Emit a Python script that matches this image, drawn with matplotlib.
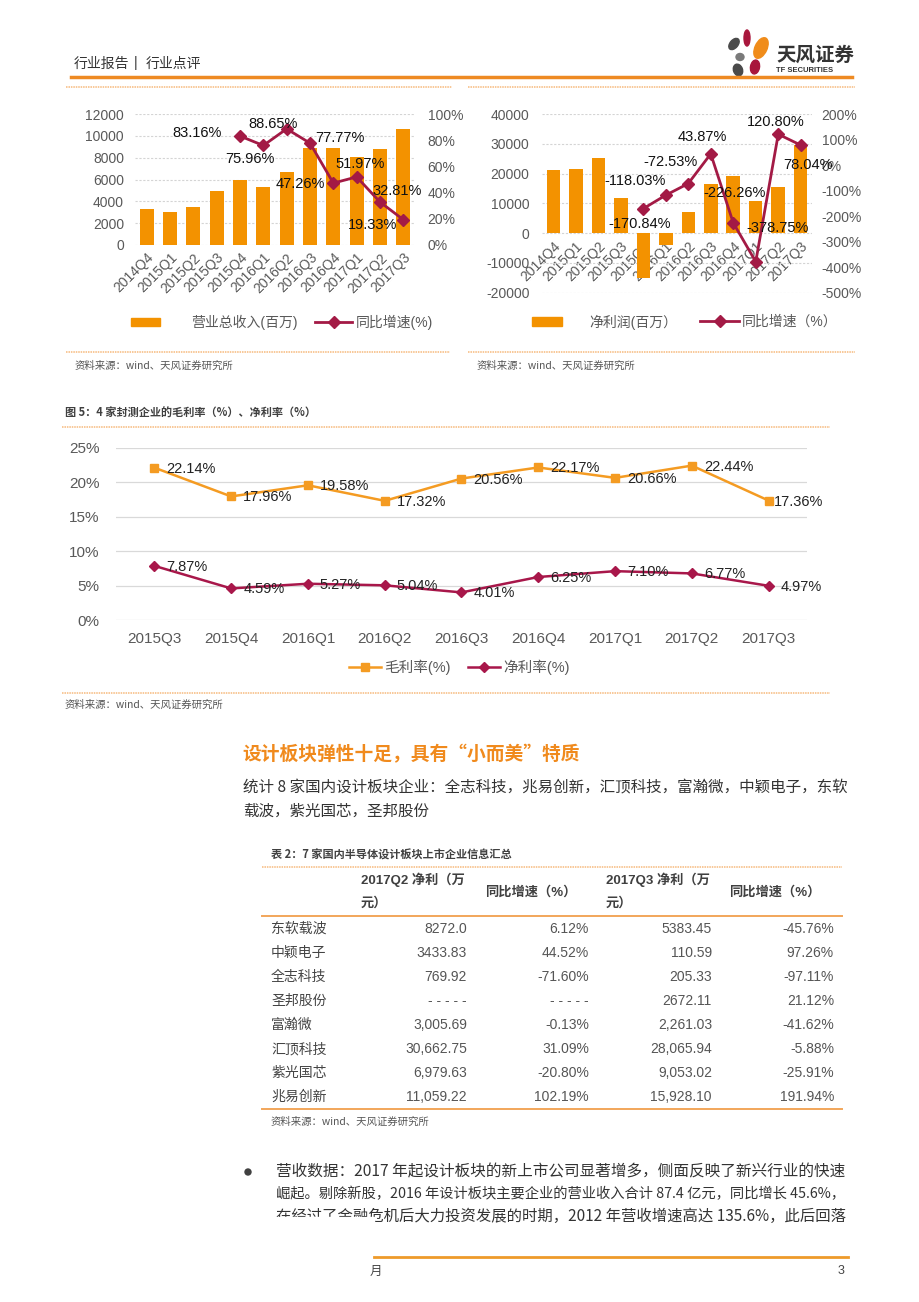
import numpy as np
import matplotlib
matplotlib.use('Agg')
import matplotlib.pyplot as plt
from matplotlib.lines import Line2D
from matplotlib.patches import Rectangle, Ellipse, Patch
from matplotlib import font_manager as fm

_names = {f.name for f in fm.fontManager.ttflist}
NARROW = 'Liberation Sans Narrow' if 'Liberation Sans Narrow' in _names else 'Liberation Sans'
CJK = 'Noto Sans CJK SC'
plt.rcParams['font.family'] = ['Liberation Sans', CJK]
plt.rcParams['axes.unicode_minus'] = False
NARROW_FAM = [NARROW, CJK]

# ---------------- data ----------------
quarters_a = ['2014Q4', '2015Q1', '2015Q2', '2015Q3', '2015Q4', '2016Q1',
              '2016Q2', '2016Q3', '2016Q4', '2017Q1', '2017Q2', '2017Q3']
revenue = [3300, 2980, 3500, 4970, 6000, 5280, 6650, 8850, 8880, 8060, 8820, 10600]
revenue_yoy = [np.nan, np.nan, np.nan, np.nan, 83.16, 75.96, 88.65, 77.77,
               47.26, 51.97, 32.81, 19.33]
profit = [21270, 21500, 25300, 11650, -15230, -3900, 6940, 16570, 19150,
          10750, 15340, 29670]
profit_yoy = [np.nan, np.nan, np.nan, np.nan, -170.84, -118.03, -72.53, 43.87,
              -226.26, -378.75, 120.80, 78.04]

quarters_b = ['2015Q3', '2015Q4', '2016Q1', '2016Q2', '2016Q3', '2016Q4',
              '2017Q1', '2017Q2', '2017Q3']
gross_margin = [22.14, 17.96, 19.58, 17.32, 20.56, 22.17, 20.66, 22.44, 17.36]
net_margin = [7.87, 4.59, 5.27, 5.04, 4.01, 6.25, 7.10, 6.77, 4.97]

companies = ['东软载波', '中颖电子', '全志科技', '圣邦股份', '富瀚微', '汇顶科技', '紫光国芯', '兆易创新']
q2_profit = ['8272.0', '3433.83', '769.92', '- - - - -', '3,005.69', '30,662.75', '6,979.63', '11,059.22']
q2_yoy = ['6.12%', '44.52%', '-71.60%', '- - - - -', '-0.13%', '31.09%', '-20.80%', '102.19%']
q3_profit = ['5383.45', '110.59', '205.33', '2672.11', '2,261.03', '28,065.94', '9,053.02', '15,928.10']
q3_yoy = ['-45.76%', '97.26%', '-97.11%', '21.12%', '-41.62%', '-5.88%', '-25.91%', '191.94%']

# label offsets (pixels) for data labels
rev_lbl_off = [None] * 4 + [(-43, 3), (-13, -14), (-14, 5), (30, 5), (-33, -1), (3, 13), (17, 11), (-31, -5)]
pro_lbl_off = [None] * 4 + [(-4, -15), (-31, 14), (-18, 22), (-8, 17), (1, 30), (22, 34), (-3, 12), (7, -20)]

# ---------------- helpers ----------------
W, H = 920, 1302
fig = plt.figure(figsize=(W / 100, H / 100), dpi=100)
fig.patch.set_facecolor('white')


def add_ax(x0, y0, x1, y1):
    return fig.add_axes([x0 / W, 1 - y1 / H, (x1 - x0) / W, (y1 - y0) / H])


def ftext(x, y, s, **kw):
    kw.setdefault('va', 'center')
    return fig.text(x / W, 1 - y / H, s, **kw)


def ftext_fit(x0, x1, y, s, size, **kw):
    t = ftext(x0, y, s, fontsize=size, **kw)
    r = fig.canvas.get_renderer()
    w = t.get_window_extent(r).width
    if w > (x1 - x0):
        t.set_fontsize(size * (x1 - x0) / w)
    return t


def hline(x0, x1, y, **kw):
    fig.add_artist(Line2D([x0 / W, x1 / W], [1 - y / H, 1 - y / H], **kw))


ORANGE = '#F39200'
DRED = '#A31A45'
GRAY = '#595959'
GRID = '#D4D4D4'
DOT = dict(color='#F6B97C', lw=1.1, ls=(0, (1, 0.6)))


def style_axes(ax):
    for s in ax.spines.values():
        s.set_visible(False)
    ax.tick_params(length=0, colors=GRAY)


# ---------------- header ----------------
ftext(74, 64, '行业报告', fontsize=10, color='#333333', family=CJK)
ftext(134, 63, '|', fontsize=10, color='#333333')
ftext(146, 64, '行业点评', fontsize=10, color='#333333', family=CJK)
hline(71, 852, 77, color='#EE8A22', lw=2.5)
hline(66, 452, 87, **DOT)
hline(468, 855, 87, **DOT)

logo = add_ax(722, 28, 778, 78)
logo.set_xlim(722, 778)
logo.set_ylim(78, 28)
logo.axis('off')
for (cx, cy, w, h, ang, col) in [
        (747, 38, 6, 16, 0, '#A8163C'),
        (761, 48, 12, 22, 25, '#F08C1A'),
        (734, 44, 8, 13, 40, '#4A4A4A'),
        (740, 57, 8, 7, 0, '#7A7A7A'),
        (738, 70, 9, 12, -20, '#4A4A4A'),
        (755, 67, 9, 14, 10, '#A8163C')]:
    logo.add_patch(Ellipse((cx, cy), w, h, angle=ang, color=col))
ftext(776, 55, '天风证券', fontsize=14, fontweight='bold', color='#333333', family=CJK)
ftext(776, 71, 'TF SECURITIES', fontsize=5.5, fontweight='bold', color='#333333')

# ---------------- top-left chart ----------------
x12 = np.arange(len(quarters_a))
ax1 = add_ax(135, 114, 415, 245)
ax1.bar(x12, revenue, width=0.6, color=ORANGE, zorder=2)
ax1.set_xlim(-0.5, 11.5)
ax1.set_ylim(0, 12000)
ax1.set_yticks(np.arange(0, 12001, 2000))
ax1.set_axisbelow(True)
ax1.yaxis.grid(True, color=GRID, ls=(0, (2, 1.5)), lw=0.8)
style_axes(ax1)
ax1.tick_params(axis='y', labelsize=10, pad=8)
ax1.set_xticks(x12)
ax1.set_xticklabels(quarters_a, rotation=45, ha='right', rotation_mode='anchor', fontsize=10, color=GRAY)
ax1.tick_params(axis='x', pad=4)
ax1b = ax1.twinx()
ax1b.plot(x12, revenue_yoy, color=DRED, lw=2, marker='D', ms=6, zorder=3)
ax1b.set_ylim(0, 100)
ax1b.set_yticks(np.arange(0, 101, 20))
ax1b.set_yticklabels([f'{v}%' for v in range(0, 101, 20)])
style_axes(ax1b)
ax1b.tick_params(axis='y', labelsize=10, pad=9)
for i, v in enumerate(revenue_yoy):
    if rev_lbl_off[i] is not None:
        ax1b.annotate(f'{v:.2f}%', (i, v), xytext=rev_lbl_off[i], textcoords='offset pixels',
                      ha='center', va='center', fontsize=10.5, color='#111111', zorder=5)

fig.legend([Patch(color=ORANGE)], ['营业总收入(百万)'], loc='center left',
           bbox_to_anchor=(118 / W, 1 - 322 / H), frameon=False, fontsize=10,
           handlelength=2.1, handleheight=0.55, handletextpad=2.3, labelcolor=GRAY)
fig.legend([Line2D([], [], color=DRED, lw=2, marker='D', ms=6)], ['同比增速(%)'], loc='center left',
           bbox_to_anchor=(303 / W, 1 - 322 / H), frameon=False, fontsize=10,
           handlelength=2.6, handletextpad=0.3, labelcolor=GRAY)

# ---------------- top-right chart ----------------
ax2 = add_ax(542, 114, 812, 292.7)
ax2.bar(x12, profit, width=0.6, color=ORANGE, zorder=2)
ax2.set_xlim(-0.5, 11.5)
ax2.set_ylim(-20000, 40000)
ax2.set_yticks(np.arange(-20000, 40001, 10000))
ax2.set_axisbelow(True)
ax2.yaxis.grid(True, color=GRID, ls=(0, (2, 1.5)), lw=0.8)
style_axes(ax2)
ax2.spines['bottom'].set_position(('data', 0))
ax2.tick_params(axis='y', labelsize=10, pad=9)
ax2.set_xticks(x12)
ax2.set_xticklabels(quarters_a, rotation=45, ha='right', rotation_mode='anchor', fontsize=10, color=GRAY)
ax2.tick_params(axis='x', pad=4)
ax2b = ax2.twinx()
ax2b.plot(x12, profit_yoy, color=DRED, lw=2, marker='D', ms=6, zorder=3)
ax2b.set_ylim(-500, 200)
ax2b.set_yticks(np.arange(-500, 201, 100))
ax2b.set_yticklabels([f'{v}%' for v in range(-500, 201, 100)])
style_axes(ax2b)
ax2b.tick_params(axis='y', labelsize=10, pad=7)
for i, v in enumerate(profit_yoy):
    if pro_lbl_off[i] is not None:
        ax2b.annotate(f'{v:.2f}%', (i, v), xytext=pro_lbl_off[i], textcoords='offset pixels',
                      ha='center', va='center', fontsize=10.5, color='#111111', zorder=5)

fig.legend([Patch(color=ORANGE)], ['净利润(百万）'], loc='center left',
           bbox_to_anchor=(520 / W, 1 - 322 / H), frameon=False, fontsize=10,
           handlelength=2.1, handleheight=0.55, handletextpad=2.0, labelcolor=GRAY)
fig.legend([Line2D([], [], color=DRED, lw=2, marker='D', ms=6)], ['同比增速（%）'], loc='center left',
           bbox_to_anchor=(688 / W, 1 - 322 / H), frameon=False, fontsize=10,
           handlelength=2.8, handletextpad=0.2, labelcolor=GRAY)

hline(66, 450, 352, **DOT)
hline(468, 855, 352, **DOT)
ftext(75, 366, '资料来源：wind、天风证券研究所', fontsize=7.5, color='#555555', family=CJK)
ftext(477, 366, '资料来源：wind、天风证券研究所', fontsize=7.5, color='#555555', family=CJK)

# ---------------- middle chart ----------------
ftext(65, 413, '图 5：4 家封测企业的毛利率（%）、净利率（%）', fontsize=8, fontweight='bold',
      color='#404040', family=CJK)
hline(62, 830, 427, **DOT)
hline(62, 830, 693, **DOT)

x9 = np.arange(len(quarters_b))
ax3 = add_ax(116, 448, 807, 620)
ax3.set_xlim(-0.5, 8.5)
ax3.set_ylim(0, 25)
ax3.set_yticks(np.arange(0, 26, 5))
ax3.set_yticklabels([f'{v}%' for v in range(0, 26, 5)], family=NARROW_FAM)
ax3.yaxis.grid(True, color='#D9D9D9', lw=0.9)
ax3.set_axisbelow(True)
style_axes(ax3)
ax3.tick_params(axis='y', labelsize=11, pad=12)
ax3.set_xticks(x9)
ax3.set_xticklabels(quarters_b, family=NARROW_FAM)
ax3.tick_params(axis='x', labelsize=11, pad=9)
lg1, = ax3.plot(x9, gross_margin, color='#F49B22', lw=1.8, marker='s', ms=6, zorder=3)
ln1, = ax3.plot(x9, net_margin, color='#A8174A', lw=1.8, marker='D', ms=5.5, zorder=3)
for i, v in enumerate(gross_margin):
    dx = 5 if i == len(gross_margin) - 1 else 12
    ax3.annotate(f'{v:.2f}%', (i, v), xytext=(dx, -1), textcoords='offset pixels',
                 ha='left', va='center', fontsize=10.5, color='#222222', family=NARROW_FAM)
for i, v in enumerate(net_margin):
    ax3.annotate(f'{v:.2f}%', (i, v), xytext=(12, -1), textcoords='offset pixels',
                 ha='left', va='center', fontsize=10.5, color='#222222', family=NARROW_FAM)
fig.legend([lg1, ln1], ['毛利率(%)', '净利率(%)'], loc='center left',
           bbox_to_anchor=(336 / W, 1 - 667 / H), frameon=False, fontsize=10.5, ncol=2,
           handlelength=2.2, handletextpad=0.2, columnspacing=1.2, labelcolor=GRAY)
ftext(65, 705, '资料来源：wind、天风证券研究所', fontsize=7.5, color='#555555', family=CJK)

# ---------------- text section ----------------
ftext(242, 755, '设计板块弹性十足，具有“小而美”特质', fontsize=13.5, fontweight='bold',
      color='#F08A1D', family=CJK)
ftext_fit(243, 846, 788, '统计 8 家国内设计板块企业：全志科技，兆易创新，汇顶科技，富瀚微，中颖电子，东软',
          11.2, color='#333333', family=CJK)
ftext(243, 811, '载波，紫光国芯，圣邦股份', fontsize=11.2, color='#333333', family=CJK)

# ---------------- table ----------------
ftext(271, 855, '表 2：7 家国内半导体设计板块上市企业信息汇总', fontsize=8, fontweight='bold',
      color='#404040', family=CJK)
hline(262, 842, 867, **DOT)
hdr = dict(fontsize=9.5, fontweight='bold', color='#404040', family=['Liberation Sans', CJK])
ftext(361, 880, '2017Q2 净利（万', **hdr)
ftext(361, 903, '元）', **hdr)
ftext(485, 892, '同比增速（%）', **hdr)
ftext(606, 880, '2017Q3 净利（万', **hdr)
ftext(606, 903, '元）', **hdr)
ftext(729, 892, '同比增速（%）', **hdr)
hline(262, 842, 916, color='#F2A65A', lw=1.4)
cell = dict(fontsize=10, color='#555555', family=NARROW_FAM, ha='right')
for r, name in enumerate(companies):
    yy = 929 + 24 * r
    ftext(271, yy, name, fontsize=10, color='#444444', family=CJK)
    ftext(467, yy, q2_profit[r], **cell)
    ftext(589, yy, q2_yoy[r], **cell)
    ftext(712, yy, q3_profit[r], **cell)
    ftext(834, yy, q3_yoy[r], **cell)
hline(262, 842, 1109, color='#F2A65A', lw=1.4)
ftext(271, 1122, '资料来源：wind、天风证券研究所', fontsize=7.5, color='#555555', family=CJK)

# ---------------- bullet paragraph ----------------
fig.add_artist(Ellipse((248 / W, 1 - 1172 / H), 6 / W, 6 / H, color='#404040', transform=fig.transFigure))
para = dict(color='#333333', family=[CJK, 'DejaVu Sans'])
ftext_fit(276, 848, 1172, '营收数据：2017 年起设计板块的新上市公司显著增多，侧面反映了新兴行业的快速', 11.3, **para)
ftext_fit(276, 848, 1194, '崛起。剔除新股，2016 年设计板块主要企业的营业收入合计 87.4 亿元，同比增长 45.6%，', 11.3, **para)
ftext_fit(276, 848, 1216, '在经过了金融危机后大力投资发展的时期，2012 年营收增速高达 135.6%，此后回落', 11.3, **para)
fig.add_artist(Rectangle((270 / W, 1 - 1232 / H), 104 / W, 15 / H, color='white',
                         transform=fig.transFigure, zorder=10))

# ---------------- footer ----------------
hline(374, 848, 1257, color='#EE9A2A', lw=2)
ftext(370, 1271, '月', fontsize=9, color='#444444', family=CJK)
ftext(838, 1271, '3', fontsize=9, color='#444444')

fig.savefig('out.png', dpi=100, facecolor='white')
